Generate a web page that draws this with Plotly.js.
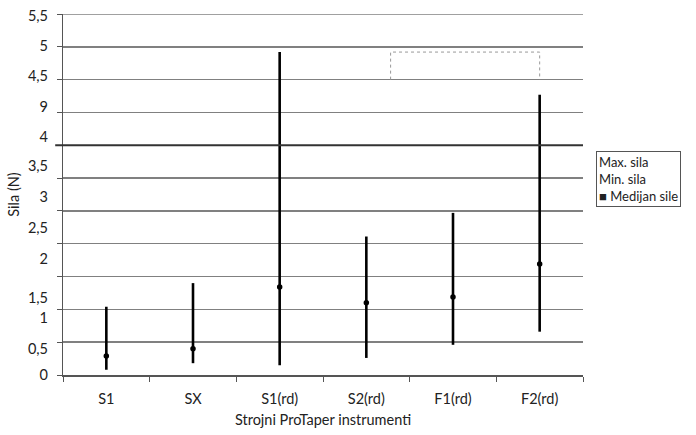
<!DOCTYPE html>
<html>
<head>
<meta charset="utf-8">
<script src="https://cdn.plot.ly/plotly-3.0.1.min.js"></script>
<style>html,body{margin:0;padding:0;background:#fff;}#chart{width:696px;height:435px;}</style>
</head>
<body>
<div id="chart"></div>
<script>
// Categories (x axis)
const categories = ['S1', 'SX', 'S1(rd)', 'S2(rd)', 'F1(rd)', 'F2(rd)'];
// Series values (N)
const maxSila = [1.04, 1.40, 4.92, 2.11, 2.47, 4.27];
const minSila = [0.08, 0.18, 0.15, 0.26, 0.46, 0.66];
const medijanSile = [0.29, 0.40, 1.34, 1.10, 1.19, 1.69];
// Y tick labels as printed in the original figure (including its oddities)
const yTickText = ['0', '0,5', '1', '1,5', '2', '2,5', '3', '3,5', '4', '9', '4,5', '5', '5,5'];
const yTickPos  = [0.0, 0.40, 0.87, 1.18, 1.77, 2.24, 2.72, 3.18, 3.63, 4.09, 4.55, 5.01, 5.47];
// Dotted bracket in the top area (category index / value)
const bracketX = [3.28, 3.28, 5.0, 5.0];
const bracketY = [4.5, 4.92, 4.92, 4.5];

const font = 'Lato, "Open Sans", sans-serif';
const yMax = 5.5;

const traces = [{
  type: 'scatter',
  mode: 'markers',
  x: categories,
  y: medijanSile,
  name: 'Medijan sile',
  marker: {color: '#000', size: 5.5, symbol: 'circle'},
  error_y: {
    type: 'data',
    symmetric: false,
    array: maxSila.map((v, i) => v - medijanSile[i]),
    arrayminus: medijanSile.map((v, i) => v - minSila[i]),
    color: '#000',
    thickness: 2.6,
    width: 0
  },
  showlegend: false,
  hoverinfo: 'x+y'
}, {
  type: 'scatter',
  mode: 'lines',
  x: bracketX,
  y: bracketY,
  xaxis: 'x2',
  yaxis: 'y2',
  line: {color: '#999', width: 1, dash: 'dot'},
  showlegend: false,
  hoverinfo: 'skip'
}];

const layout = {
  width: 696,
  height: 435,
  margin: {l: 63, r: 113, t: 14, b: 60},
  paper_bgcolor: '#fff',
  plot_bgcolor: '#fff',
  font: {family: font, size: 14, color: '#222'},
  showlegend: false,
  xaxis: {
    type: 'category',
    range: [-0.5, 5.5],
    tickson: 'boundaries',
    ticks: 'outside',
    ticklen: 5,
    tickwidth: 1,
    tickcolor: '#555',
    showline: true,
    linecolor: '#555',
    linewidth: 1.5,
    showgrid: false,
    ticklabelstandoff: 10,
    tickfont: {family: font, size: 14.5, color: '#222'},
    title: {text: 'Strojni ProTaper instrumenti', font: {family: font, size: 14.5, color: '#222'}, standoff: 9}
  },
  xaxis2: {
    overlaying: 'x',
    range: [-0.5, 5.5],
    visible: false
  },
  yaxis: {
    range: [0, yMax],
    dtick: 0.5,
    tick0: 0,
    showticklabels: false,
    ticks: 'outside',
    ticklen: 5,
    tickcolor: '#555',
    showgrid: true,
    gridcolor: '#808080',
    gridwidth: 1.4,
    showline: true,
    linecolor: '#555',
    linewidth: 1.5,
    zeroline: false,
    title: {text: 'Sila (N)', font: {family: font, size: 14.5, color: '#222'}, standoff: 33}
  },
  yaxis2: {
    overlaying: 'y',
    side: 'left',
    range: [0, yMax],
    tickmode: 'array',
    tickvals: yTickPos,
    ticktext: yTickText,
    ticks: '',
    showgrid: false,
    showline: false,
    zeroline: false,
    tickfont: {family: font, size: 14.5, color: '#222'},
    ticklabelstandoff: 14
  },
  shapes: [{
    type: 'line', xref: 'paper', yref: 'y', x0: -0.015, x1: 1, y0: 3.5, y1: 3.5,
    line: {color: '#333', width: 2.2}
  }, {
    type: 'line', xref: 'paper', yref: 'y', x0: 0, x1: 1, y0: 5.5, y1: 5.5,
    line: {color: '#808080', width: 1.4}
  }],
  annotations: [{
    xref: 'paper', yref: 'paper', x: 1.025, y: 0.543,
    xanchor: 'left', yanchor: 'middle',
    align: 'left',
    text: 'Max. sila<br>Min. sila<br>■ Medijan sile',
    showarrow: false,
    font: {family: font, size: 13, color: '#222'},
    bordercolor: '#555', borderwidth: 1, borderpad: 2,
    bgcolor: '#fff'
  }]
};

Plotly.newPlot('chart', traces, layout, {displayModeBar: false, staticPlot: true});
</script>
</body>
</html>
